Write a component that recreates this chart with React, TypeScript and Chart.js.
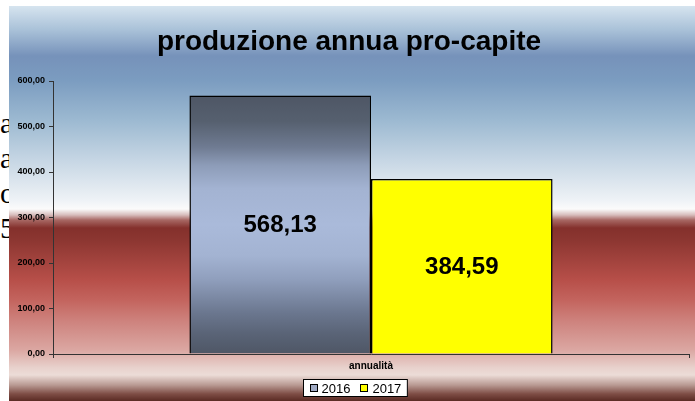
import React, { useEffect, useRef } from 'react';
import { Chart, registerables } from 'chart.js';

Chart.register(...registerables);

const categories = ['annualità'];
const seriesLabels = ['2016', '2017'];
const values2016 = [568.13];
const values2017 = [384.59];
const yMin = 0;
const yMax = 600;
const yStep = 100;
const titleText = 'produzione annua pro-capite';
const sideLetters = ['a', 'a', 'o', '5'];

const FONT = "'Liberation Sans', Arial, Helvetica, sans-serif";
const fmt = (v: number) => v.toFixed(2).replace('.', ',');

const legendSwatch = ['#a0aac4', '#ffff00'];

const bgStops: [number, string][] = [
  [0, '#d6e4ef'],
  [24, '#a9c1d8'],
  [50, '#7692ba'],
  [74, '#7b9cc0'],
  [114, '#9cb9d1'],
  [154, '#c6d6e4'],
  [194, '#eef2f6'],
  [203, '#fbfbfb'],
  [209, '#d7bcbb'],
  [214, '#a86864'],
  [222, '#84302c'],
  [234, '#8c3631'],
  [274, '#b74f49'],
  [294, '#c3645e'],
  [314, '#cd817c'],
  [344, '#dba7a2'],
  [362, '#e8d2cd'],
  [369, '#ecdcd7'],
  [379, '#b99a93'],
  [388, '#7e4d45'],
  [395, '#5a2b24'],
];

const barStops: [number, string][] = [
  [0, '#4e5665'],
  [0.1, '#56606f'],
  [0.2, '#6f7b92'],
  [0.27, '#8d9cb8'],
  [0.36, '#a3b3d2'],
  [0.5, '#aabada'],
  [0.62, '#a3b3d2'],
  [0.71, '#909fbd'],
  [0.84, '#6b778f'],
  [0.92, '#5a6477'],
  [1, '#4e5665'],
];

const backgroundPlugin = {
  id: 'bgGradient',
  beforeDraw(chart: any) {
    const { ctx, width, height } = chart;
    const g = ctx.createLinearGradient(0, 0, 0, height);
    bgStops.forEach(([y, c]) => g.addColorStop(Math.min(1, y / height), c));
    ctx.save();
    ctx.fillStyle = g;
    ctx.fillRect(0, 0, width, height);
    ctx.restore();
  },
};

const valueLabelPlugin = {
  id: 'valueLabels',
  afterDatasetsDraw(chart: any) {
    const { ctx } = chart;
    ctx.save();
    ctx.font = `bold 24px ${FONT}`;
    ctx.fillStyle = '#000';
    ctx.textAlign = 'center';
    ctx.textBaseline = 'middle';
    chart.data.datasets.forEach((ds: any, i: number) => {
      const meta = chart.getDatasetMeta(i);
      meta.data.forEach((el: any, j: number) => {
        const v = ds.data[j];
        ctx.fillText(fmt(v), el.x, (el.y + el.base) / 2 + 1);
      });
    });
    ctx.restore();
  },
};

const boxLegendPlugin = {
  id: 'boxLegend',
  afterDraw(chart: any) {
    const { ctx } = chart;
    ctx.save();
    ctx.font = `13px ${FONT}`;
    const sq = 8;
    const gap = 4;
    const itemGap = 10;
    const pad = 6;
    const widths = chart.data.datasets.map((ds: any) => sq + gap + ctx.measureText(ds.label).width);
    const inner = widths.reduce((a: number, b: number) => a + b, 0) + itemGap * (widths.length - 1);
    const total = inner + pad * 2;
    const cx = 346;
    const left = Math.round(cx - total / 2) + 0.5;
    const top = 373.5;
    const h = 17;
    ctx.fillStyle = '#ffffff';
    ctx.fillRect(left, top, total, h);
    ctx.strokeStyle = '#000';
    ctx.lineWidth = 1;
    ctx.strokeRect(left, top, total, h);
    let x = left + pad;
    const cy = top + h / 2;
    chart.data.datasets.forEach((ds: any, i: number) => {
      ctx.fillStyle = legendSwatch[i];
      ctx.fillRect(Math.round(x), Math.round(cy - sq / 2), sq, sq);
      ctx.strokeStyle = '#000';
      ctx.strokeRect(Math.round(x) + 0.5, Math.round(cy - sq / 2) + 0.5, sq - 1, sq - 1);
      ctx.fillStyle = '#000';
      ctx.textAlign = 'left';
      ctx.textBaseline = 'middle';
      ctx.fillText(ds.label, x + sq + gap, cy + 1);
      x += widths[i] + itemGap;
    });
    ctx.restore();
  },
};

const barGradient = (c: any) => {
  const chart = c.chart;
  const y = chart.scales && chart.scales.y;
  if (!y || !chart.chartArea || c.raw === undefined) return legendSwatch[0];
  const top = y.getPixelForValue(c.raw);
  const base = y.getPixelForValue(0);
  const g = chart.ctx.createLinearGradient(0, top, 0, base);
  barStops.forEach(([t, col]) => g.addColorStop(t, col));
  return g;
};

export default function App() {
  const ref = useRef<HTMLCanvasElement | null>(null);
  useEffect(() => {
    if (!ref.current) return;
    const chart = new Chart(ref.current, {
      type: 'bar',
      data: {
        labels: categories,
        datasets: [
          {
            label: seriesLabels[0],
            data: values2016,
            backgroundColor: barGradient,
            borderColor: '#000',
            borderWidth: 1.5,
            categoryPercentage: 0.571,
            barPercentage: 1,
          },
          {
            label: seriesLabels[1],
            data: values2017,
            backgroundColor: '#ffff00',
            borderColor: '#000',
            borderWidth: 1.5,
            categoryPercentage: 0.571,
            barPercentage: 1,
          },
        ],
      },
      options: {
        animation: false,
        responsive: false,
        maintainAspectRatio: false,
        layout: { padding: { left: 0, right: 6, top: 0, bottom: 25 } },
        plugins: {
          legend: { display: false },
          tooltip: { enabled: false },
          title: {
            display: true,
            text: titleText,
            color: '#000',
            font: { family: FONT, size: 28, weight: 'bold', lineHeight: 1.2 },
            padding: { top: 19, bottom: 22.4 },
          },
        },
        scales: {
          x: {
            offset: true,
            border: { display: true, color: '#333', width: 1 },
            grid: { display: true, drawOnChartArea: false, drawTicks: true, tickLength: 4, color: '#333' },
            ticks: { color: '#000', font: { family: FONT, size: 10, weight: 'bold' }, padding: 2 },
            afterFit: (s: any) => { s.height = 22; },
          },
          y: {
            min: yMin,
            max: yMax,
            border: { display: true, color: '#333', width: 1 },
            grid: { display: true, drawOnChartArea: false, drawTicks: true, tickLength: 4, color: '#333' },
            ticks: {
              stepSize: yStep,
              color: '#000',
              padding: 4,
              font: { family: FONT, size: 9, weight: 'bold' },
              callback: (v: any) => fmt(Number(v)),
            },
            afterFit: (s: any) => { s.width = 44; },
          },
        },
      },
      plugins: [backgroundPlugin, valueLabelPlugin, boxLegendPlugin],
    });
    return () => chart.destroy();
  }, []);

  return (
    <div style={{ position: 'absolute', left: 0, top: 0, width: 695, height: 401, overflow: 'hidden', background: '#fff' }}>
      <div
        style={{
          position: 'absolute',
          left: 0,
          top: 105,
          fontFamily: "'Liberation Serif', 'Times New Roman', serif",
          fontSize: 30,
          lineHeight: '35px',
          color: '#000',
        }}
      >
        {sideLetters.map((l, i) => (
          <div key={i}>{l}</div>
        ))}
      </div>
      <div style={{ position: 'absolute', left: 9, top: 6, width: 686, height: 395, zIndex: 1 }}>
        <canvas ref={ref} width={686} height={395} style={{ display: 'block', width: 686, height: 395 }} />
      </div>
    </div>
  );
}
